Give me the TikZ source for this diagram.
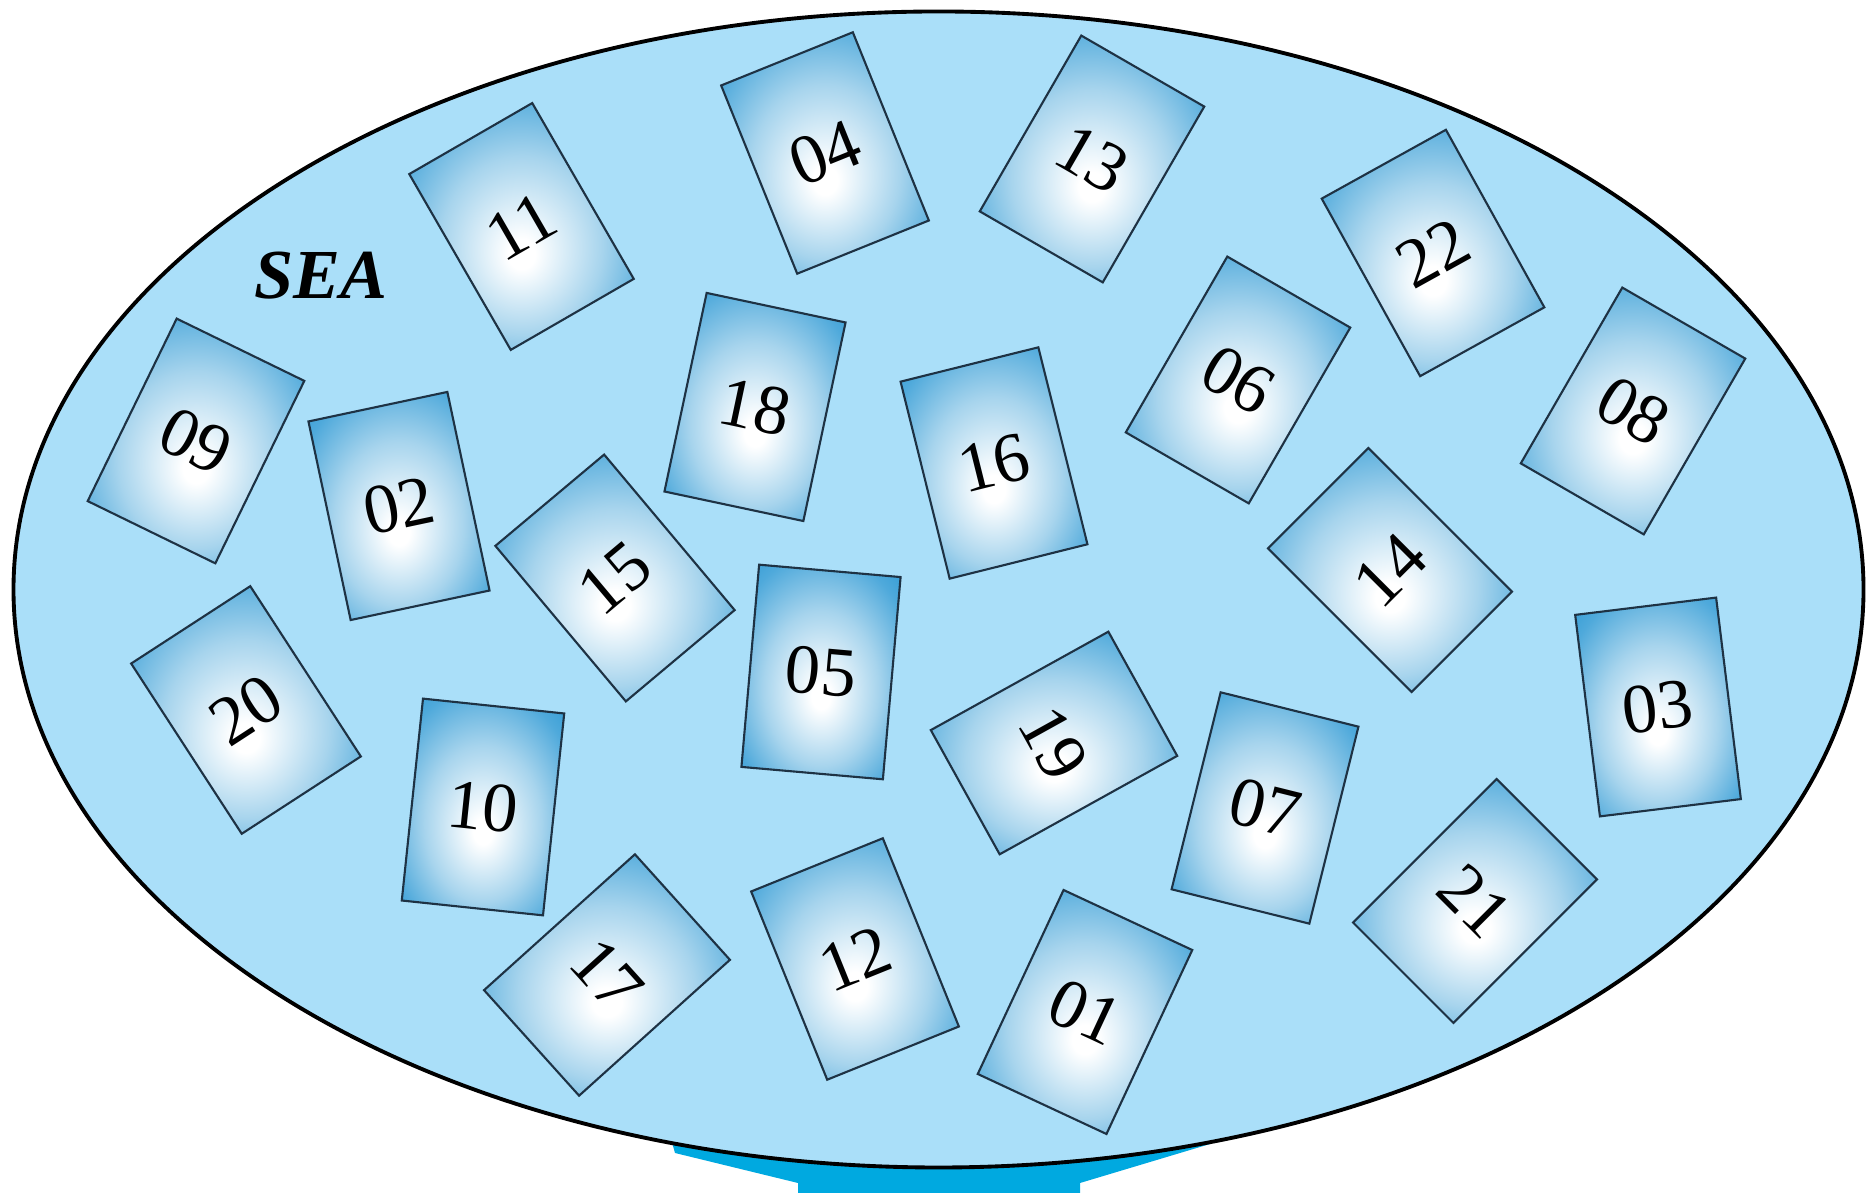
\documentclass[tikz,border=0pt]{standalone}
\usepackage{fontspec}
\setmainfont{Liberation Serif}
\definecolor{seafill}{RGB}{170,223,249}
\definecolor{standblue}{RGB}{0,169,224}
\definecolor{cardblue}{RGB}{35,148,210}
\definecolor{cardline}{RGB}{30,50,68}
\pgfdeclareradialshading{cardshade}{\pgfpoint{0bp}{-6bp}}{color(0bp)=(white); color(3bp)=(white); color(18bp)=(cardblue!40!white); color(30bp)=(cardblue!80!white); color(40bp)=(cardblue); color(50bp)=(cardblue)}
\tikzset{
  card/.style={draw=cardline, line width=0.6pt, shading=cardshade,
    minimum width=1.42cm, minimum height=2.03cm, inner sep=0pt,
    font=\fontsize{20}{24}\selectfont},
}
\begin{document}
\begin{tikzpicture}
\useasboundingbox (0,0) rectangle (18.66,11.93);
% stand below the sea
\fill[standblue] (6.6,0.93) -- (6.75,0.40) -- (7.98,0.10) -- (7.98,0) -- (10.8,0)
  -- (10.8,0.10) -- (12.1,0.49) -- (12.3,0.93) -- cycle;
\draw[fill=seafill, line width=1.1pt] (9.385,6.035) ellipse (9.25cm and 5.78cm);
\node[font=\fontsize{20}{24}\selectfont\bfseries\itshape] (sea) at (3.21,9.17) {SEA};
% cards
\node[card, rotate=30] (c11) at (5.215,9.665) {11};
\node[card, rotate=22] (c04) at (8.25,10.40) {04};
\node[card, rotate=-30] (c13) at (10.92,10.34) {13};
\node[card, rotate=29] (c22) at (14.33,9.40) {22};
\node[card, rotate=-26] (c09) at (1.96,7.52) {09};
\node[card, rotate=12] (c02) at (3.99,6.87) {02};
\node[card, rotate=-12] (c18) at (7.55,7.86) {18};
\node[card, rotate=14] (c16) at (9.94,7.30) {16};
\node[card, rotate=-30] (c06) at (12.38,8.13) {06};
\node[card, rotate=-30] (c08) at (16.33,7.82) {08};
\node[card, rotate=40] (c15) at (6.15,6.15) {15};
\node[card, rotate=-5] (c05) at (8.21,5.21) {05};
\node[card, rotate=45] (c14) at (13.90,6.23) {14};
\node[card, rotate=7] (c03) at (16.58,4.86) {03};
\node[card, rotate=33] (c20) at (2.46,4.83) {20};
\node[card, rotate=-6] (c10) at (4.83,3.86) {10};
\node[card, rotate=-61] (c19) at (10.54,4.50) {19};
\node[card, rotate=-14] (c07) at (12.65,3.85) {07};
\node[card, rotate=-45] (c21) at (14.75,2.92) {21};
\node[card, rotate=-48] (c17) at (6.07,2.18) {17};
\node[card, rotate=22] (c12) at (8.55,2.34) {12};
\node[card, rotate=-25] (c01) at (10.85,1.81) {01};
\end{tikzpicture}
\end{document}
